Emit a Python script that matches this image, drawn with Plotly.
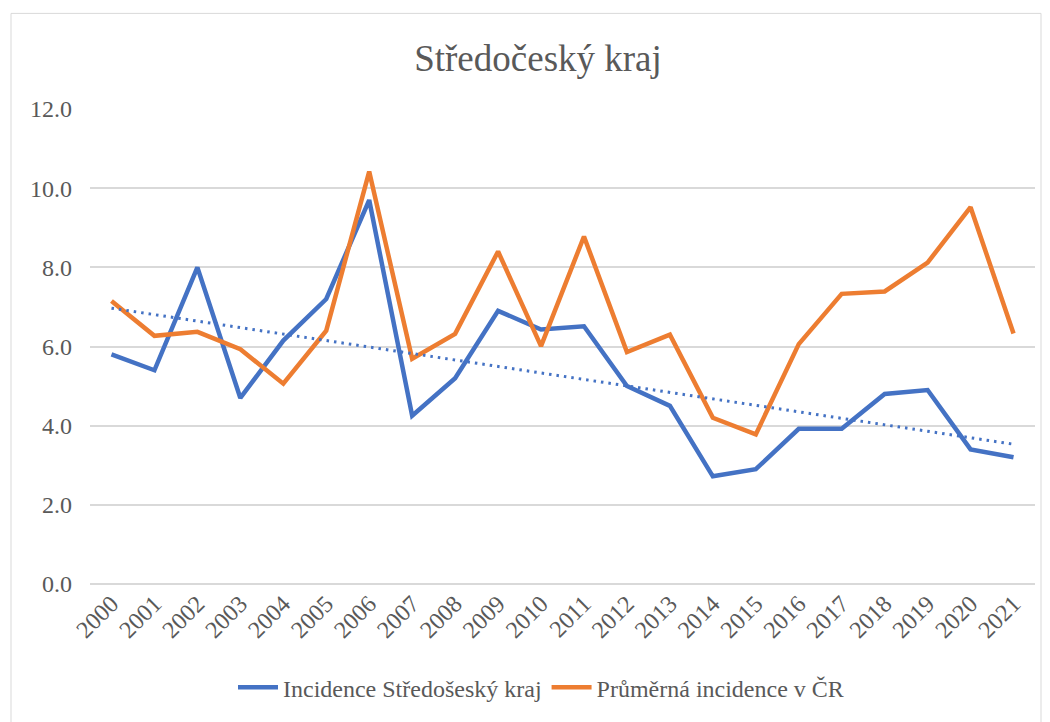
import numpy as np
import plotly.graph_objects as go

years = [str(y) for y in range(2000, 2022)]
incidence_stredocesky = [5.8, 5.4, 8.0, 4.7, 6.15, 7.2, 9.7, 4.25, 5.2, 6.9, 6.43,
                         6.51, 5.0, 4.5, 2.72, 2.9, 3.92, 3.92, 4.8, 4.9, 3.4, 3.2]
incidence_cr = [7.15, 6.27, 6.37, 5.93, 5.06, 6.4, 10.42, 5.69, 6.32, 8.4, 6.01,
                8.78, 5.86, 6.3, 4.2, 3.78, 6.06, 7.33, 7.39, 8.12, 9.52, 6.33]

name_blue = "Incidence Středošeský kraj"
name_orange = "Průměrná incidence v ČR"
title = "Středočeský kraj"

BLUE = "#4472C4"
ORANGE = "#ED7D31"
GRID = "#D9D9D9"
TEXT = "#595959"
FONT = "Liberation Serif"
FS = 24

# linear trendline of the regional series
idx = np.arange(len(years))
slope, intercept = np.polyfit(idx, np.array(incidence_stredocesky), 1)
trend = slope * idx + intercept

fig = go.Figure()
fig.add_trace(go.Scatter(x=years, y=incidence_stredocesky, mode="lines", name=name_blue,
                         line=dict(color=BLUE, width=4.5)))
fig.add_trace(go.Scatter(x=years, y=incidence_cr, mode="lines", name=name_orange,
                         line=dict(color=ORANGE, width=4.5)))
fig.add_trace(go.Scatter(x=years, y=trend, mode="lines", showlegend=False,
                         line=dict(color=BLUE, width=3, dash="2.5px,5px")))

OFF = 8  # page body margin
W, H = 1050 - OFF, 722 - OFF
L, T = 90 - OFF, 109 - OFF
R = W - (1035 - OFF)
B = H - (586 - OFF)
pw, ph = W - L - R, H - T - B

def px_x(p):  # screen px -> paper x
    return (p - OFF - L) / pw

def px_y(p):  # screen px -> paper y
    return (H - B - (p - OFF)) / ph

fig.update_layout(
    width=W, height=H,
    margin=dict(l=L, r=R, t=T, b=B),
    paper_bgcolor="white", plot_bgcolor="white",
    font=dict(family=FONT, color=TEXT, size=FS),
    title=dict(text=title, x=px_x(538), xanchor="center", xref="paper",
               y=1 - (58 - OFF) / H, yanchor="middle",
               font=dict(family=FONT, size=37, color=TEXT)),
    xaxis=dict(type="category", tickangle=-45, showgrid=False, zeroline=False,
               showline=False, ticks="", tickfont=dict(family=FONT, size=FS, color=TEXT),
               range=[-0.5, len(years) - 0.5]),
    yaxis=dict(range=[0, 12], dtick=2, tickformat=".1f", showgrid=True, gridcolor=GRID,
               gridwidth=1.5, zeroline=True, zerolinecolor=GRID, zerolinewidth=1.5,
               showline=False, ticks="", ticklabelstandoff=17,
               tickfont=dict(family=FONT, size=FS, color=TEXT)),
    legend=dict(orientation="h", x=px_x(541), xanchor="center", y=px_y(690), yanchor="middle",
                font=dict(family=FONT, size=FS, color=TEXT), itemwidth=40, tracegroupgap=0),
    showlegend=True,
    shapes=[dict(type="rect", xref="paper", yref="paper",
                 x0=px_x(11), x1=px_x(1041), y0=px_y(740), y1=px_y(13),
                 line=dict(color=GRID, width=1), fillcolor="rgba(0,0,0,0)", layer="below")],
)

fig.write_html("out.html")
